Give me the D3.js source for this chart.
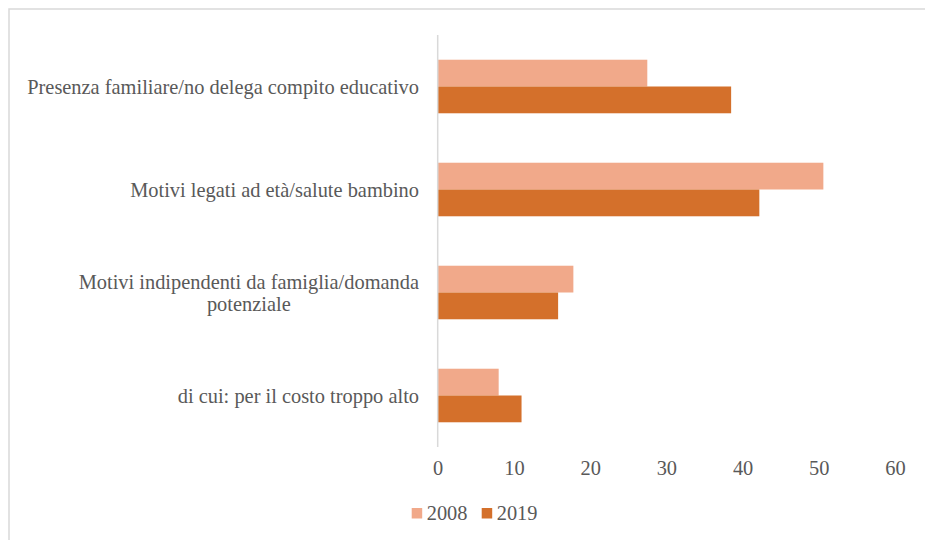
<!DOCTYPE html>
<html>
<head>
<meta charset="utf-8">
<script src="https://cdn.jsdelivr.net/npm/d3@7"></script>
<style>
  html, body { margin: 0; padding: 0; background: #fff; }
  svg { display: block; }
</style>
</head>
<body>
<div id="chart"></div>
<script>
const categories = [
  "Presenza familiare/no delega compito educativo",
  "Motivi legati ad età/salute bambino",
  "Motivi indipendenti da famiglia/domanda potenziale",
  "di cui: per il costo troppo alto"
];
const categoryLines = [
  ["Presenza familiare/no delega compito educativo"],
  ["Motivi legati ad età/salute bambino"],
  ["Motivi indipendenti da famiglia/domanda", "potenziale"],
  ["di cui: per il costo troppo alto"]
];
const seriesNames = ["2008", "2019"];
const values2008 = [27.5, 50.6, 17.8, 8.0];
const values2019 = [38.5, 42.2, 15.8, 11.0];
const xTicks = [0, 10, 20, 30, 40, 50, 60];
const colors = ["#F1A98A", "#D4702B"];

const FONT = "'Liberation Serif', 'Times New Roman', serif";
const FS = "20.4px";
const TXT = "#595959";

const W = 925, H = 540;
const svg = d3.select("#chart").append("svg").attr("width", W).attr("height", H)
  .style("font-family", FONT);

// frame
svg.append("rect").attr("x", 9).attr("y", 9).attr("width", W).attr("height", H)
  .attr("fill", "none").attr("stroke", "#d9d9d9").attr("stroke-width", 1.5);

const x = d3.scaleLinear().domain([0, 60]).range([437.7, 895]);
const y = d3.scaleBand().domain(categories).range([35, 447]).paddingInner(0.48).paddingOuter(0.24);
const ys = d3.scaleBand().domain(seriesNames).range([0, y.bandwidth()]);

const data = categories.map((c, i) => ({ cat: c, vals: [values2008[i], values2019[i]] }));

const groups = svg.append("g").selectAll("g.cat").data(data).join("g")
  .attr("transform", d => `translate(0,${y(d.cat)})`);
groups.selectAll("rect").data(d => d.vals.map((v, j) => ({ s: seriesNames[j], v, j })))
  .join("rect")
  .attr("x", x(0))
  .attr("y", d => ys(d.s))
  .attr("width", d => x(d.v) - x(0))
  .attr("height", ys.bandwidth())
  .attr("fill", d => colors[d.j]);

// vertical axis line
svg.append("line").attr("x1", x(0)).attr("x2", x(0)).attr("y1", 35).attr("y2", 447)
  .attr("stroke", "#d9d9d9").attr("stroke-width", 1.5);

// x axis labels
const xAxis = d3.axisBottom(x).tickValues(xTicks).tickSize(0).tickPadding(0).tickFormat(d3.format("d"));
const xg = svg.append("g").attr("transform", "translate(0,461)").call(xAxis)
  .attr("font-family", null).attr("font-size", null);
xg.select(".domain").remove();
xg.selectAll("text").style("font-size", FS).style("fill", TXT).style("font-family", FONT);

// category labels
const lineH = 22;
categories.forEach((c, i) => {
  const lines = categoryLines[i];
  const cy = y(c) + y.bandwidth() / 2;
  const t = svg.append("text").style("font-size", FS).style("font-family", FONT)
    .style("fill", TXT).attr("text-anchor", "end");
  lines.forEach((ln, k) => {
    t.append("tspan")
      .attr("x", 419)
      .attr("y", cy + (k - (lines.length - 1) / 2) * lineH)
      .attr("dy", "0.35em")
      .text(ln);
  });
  if (lines.length > 1) {
    const spans = t.selectAll("tspan").nodes();
    const w0 = spans[0].getComputedTextLength();
    const center = 419 - w0 / 2;
    spans.slice(1).forEach(s => {
      d3.select(s).attr("x", center).attr("text-anchor", "middle");
    });
  }
});

// legend
const legendX = [411.7, 481.7];
seriesNames.forEach((s, j) => {
  svg.append("rect").attr("x", legendX[j]).attr("y", 508).attr("width", 10.5).attr("height", 10.5).attr("fill", colors[j]);
  svg.append("text").attr("x", legendX[j] + 15).attr("y", 520)
    .style("font-size", FS).style("font-family", FONT).style("fill", TXT).text(s);
});
</script>
</body>
</html>
